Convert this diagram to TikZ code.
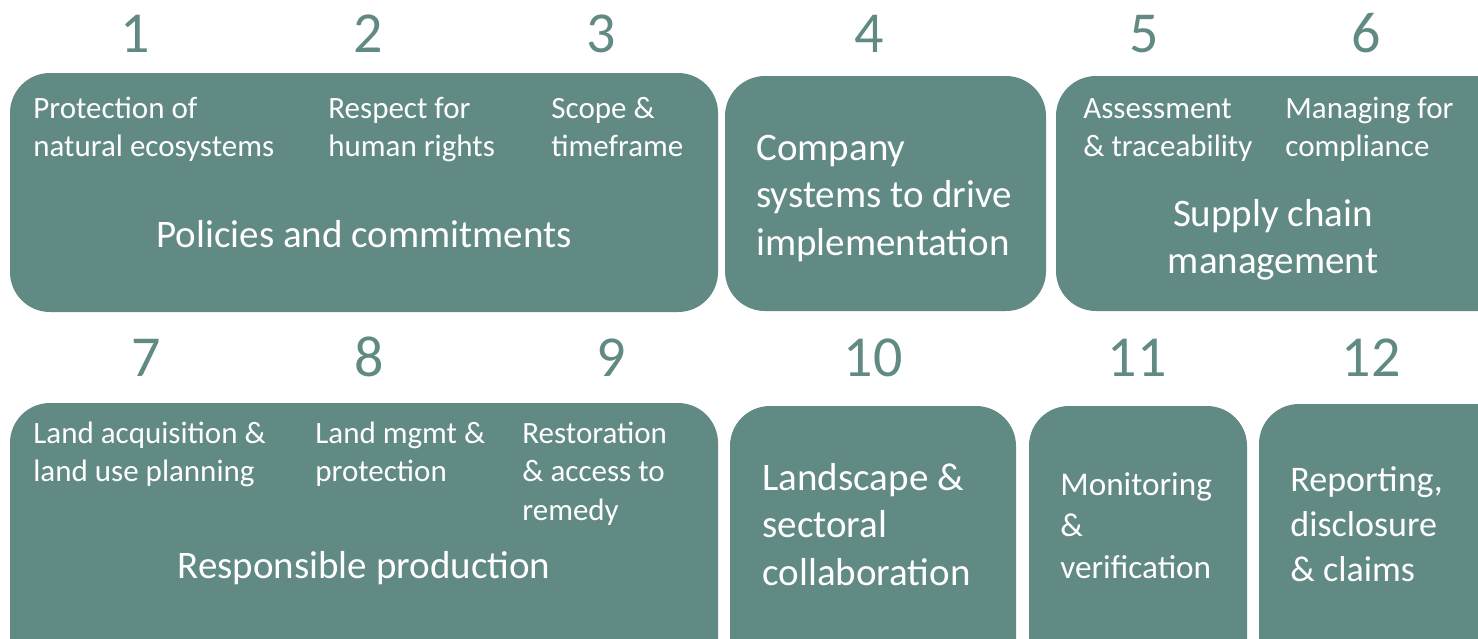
\documentclass[tikz,border=0pt]{standalone}
\usepackage{fontspec}
\setmainfont{Carlito}
\definecolor{teal1}{RGB}{96,138,131}
\tikzset{
  gbox/.style={fill=teal1, draw=none, rounded corners=20pt, rectangle},
  num/.style={text=teal1, font=\fontsize{29}{34}\selectfont, anchor=base, inner sep=0pt},
  small/.style={text=white, font=\fontsize{15.5}{19.35}\selectfont, align=left, anchor=base west, inner sep=0pt},
  big/.style={text=white, font=\fontsize{19.5}{23.75}\selectfont, align=left, anchor=base west, inner sep=0pt},
  bigc/.style={text=white, font=\fontsize{19.5}{23.75}\selectfont, align=center, anchor=base, inner sep=0pt},
  mid/.style={text=white, font=\fontsize{16.6}{20.75}\selectfont, align=left, anchor=base west, inner sep=0pt},
  rep/.style={text=white, font=\fontsize{18}{22.5}\selectfont, align=left, anchor=base west, inner sep=0pt},
}
\begin{document}
\begin{tikzpicture}[x=0.5pt, y=-0.5pt]
\useasboundingbox (0,0) rectangle (1478,638);
\clip (0,0) rectangle (1478,638);
% boxes
\path[gbox] (10,73) rectangle (718,312);
\path[gbox] (725,76) rectangle (1046,311);
\path[gbox] (1056,76) rectangle (1520,311);
\path[gbox] (10,403) rectangle (718,690);
\path[gbox] (730,406) rectangle (1016,690);
\path[gbox] (1029,406) rectangle (1247,690);
\path[gbox] (1259,404) rectangle (1520,690);
% numbers
\node[num] (n1) at (135,52) {1};
\node[num] (n2) at (368,52) {2};
\node[num] (n3) at (601,52) {3};
\node[num] (n4) at (869,52) {4};
\node[num] (n5) at (1144,52) {5};
\node[num] (n6) at (1366,52) {6};
\node[num] (n7) at (146,376) {7};
\node[num] (n8) at (369,376) {8};
\node[num] (n9) at (611,376) {9};
\node[num] (n10) at (873,376) {10};
\node[num] (n11) at (1137,376) {11};
\node[num] (n12) at (1371,376) {12};
% row 1 texts (anchor = baseline of last line)
\node[small] (t1) at (33,156.7) {Protection of\\natural ecosystems};
\node[small] (t2) at (328,156.7) {Respect for\\human rights};
\node[small] (t3) at (551,156.7) {Scope \&\\timeframe};
\node[bigc] (tA) at (364,247) {Policies and commitments};
\node[big] (t4) at (756,255) {Company\\systems to drive\\implementation};
\node[small] (t5) at (1083,156.7) {Assessment\\\& traceability};
\node[small] (t6) at (1285,156.7) {Managing for\\compliance};
\node[bigc] (tC) at (1273,273.5) {Supply chain\\management};
% row 2 texts
\node[small] (t7) at (33,481.7) {Land acquisition \&\\land use planning};
\node[small] (t8) at (315,481.7) {Land mgmt \&\\protection};
\node[small] (t9) at (522,520.4) {Restoration\\\& access to\\remedy};
\node[bigc] (tD) at (364,578) {Responsible production};
\node[big] (t10) at (762,585) {Landscape \&\\sectoral\\collaboration};
\node[mid] (t11) at (1060,578) {Monitoring\\\&\\verification};
\node[rep] (t12) at (1290,581) {Reporting,\\disclosure\\\& claims};
\end{tikzpicture}
\end{document}
